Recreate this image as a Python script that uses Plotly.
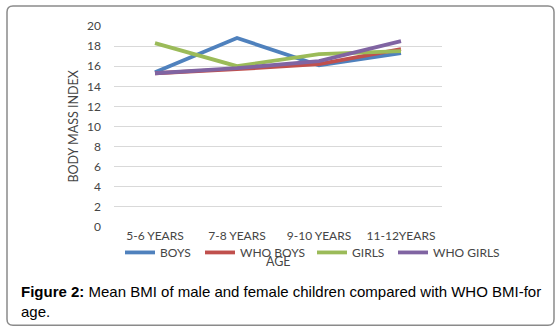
import plotly.graph_objects as go

categories = ["5-6 YEARS", "7-8 YEARS", "9-10 YEARS", "11-12YEARS"]
boys = [15.4, 18.8, 16.1, 17.3]
who_boys = [15.3, 15.7, 16.2, 17.7]
girls = [18.3, 16.0, 17.2, 17.5]
who_girls = [15.3, 15.8, 16.5, 18.5]
y_ticks = list(range(0, 21, 2))

series = [
    ("BOYS", boys, "#4f81bd"),
    ("WHO BOYS", who_boys, "#c0504d"),
    ("GIRLS", girls, "#9bbb59"),
    ("WHO GIRLS", who_girls, "#8064a2"),
]

W, H = 559, 327
L, R, T, B = 114, 117, 26, 99.5
pw, ph = W - L - R, H - T - B

def px(x):
    return (x - L) / pw

def py(y):
    return (H - B - y) / ph

tick_font = dict(family="Lato, sans-serif", size=12, color="#454545")

# pixel x of each legend entry's left edge
legend_x = [120, 200, 312, 393]

fig = go.Figure()
layout_legends = {}
for i, (name, vals, col) in enumerate(series):
    lname = "legend" if i == 0 else f"legend{i+1}"
    fig.add_trace(go.Scatter(x=categories, y=vals, name=name, mode="lines",
                             line=dict(color=col, width=3.8), legend=lname))
    layout_legends[lname] = dict(orientation="h", x=px(legend_x[i]), y=py(253),
                                 xanchor="left", yanchor="middle", font=tick_font,
                                 bgcolor="rgba(0,0,0,0)", itemwidth=30)

fig.update_layout(
    width=W, height=H,
    margin=dict(l=L, r=R, t=T, b=B, autoexpand=False),
    paper_bgcolor="white", plot_bgcolor="white",
    font=tick_font,
    showlegend=True,
    xaxis=dict(type="category", range=[-0.5, 3.5], showgrid=False, zeroline=False,
               showline=False, ticks="", tickfont=tick_font),
    yaxis=dict(range=[0, 20], tickvals=y_ticks, showgrid=True, gridcolor="#d9d9d9",
               gridwidth=1, zeroline=False, showline=False, ticks="", tickfont=tick_font,
               ticklabelstandoff=12),
    **layout_legends,
)

fig.add_annotation(text="BODY MASS INDEX", x=px(73), y=0.5, xref="paper", yref="paper",
                   textangle=-90, showarrow=False, font=dict(tick_font, size=12.5),
                   xanchor="center", yanchor="middle")

fig.add_annotation(text="AGE", x=0.5, y=py(262), xref="paper", yref="paper",
                   showarrow=False, font=dict(tick_font, size=12.5),
                   xanchor="center", yanchor="middle")

fig.add_annotation(
    text="<b>Figure 2:</b> Mean BMI of male and female children compared with WHO BMI-for<br>age.",
    x=px(19), y=py(282), xref="paper", yref="paper", showarrow=False, align="left",
    xanchor="left", yanchor="top",
    font=dict(family="Liberation Sans, Arial, sans-serif", size=15, color="black"))

# rounded border
x0, x1 = px(7), px(554)
y0, y1 = py(326), py(6)
rx, ry = 6 / pw, 6 / ph
path = (f"M {x0+rx} {y1} L {x1-rx} {y1} Q {x1} {y1} {x1} {y1-ry} "
        f"L {x1} {y0+ry} Q {x1} {y0} {x1-rx} {y0} L {x0+rx} {y0} "
        f"Q {x0} {y0} {x0} {y0+ry} L {x0} {y1-ry} Q {x0} {y1} {x0+rx} {y1} Z")
fig.add_shape(type="path", path=path, xref="paper", yref="paper",
              line=dict(color="#8a8a8a", width=1.5), layer="below")

fig.write_html("out.html", config={"displayModeBar": False},
               post_script="document.body.style.margin='0px';")
